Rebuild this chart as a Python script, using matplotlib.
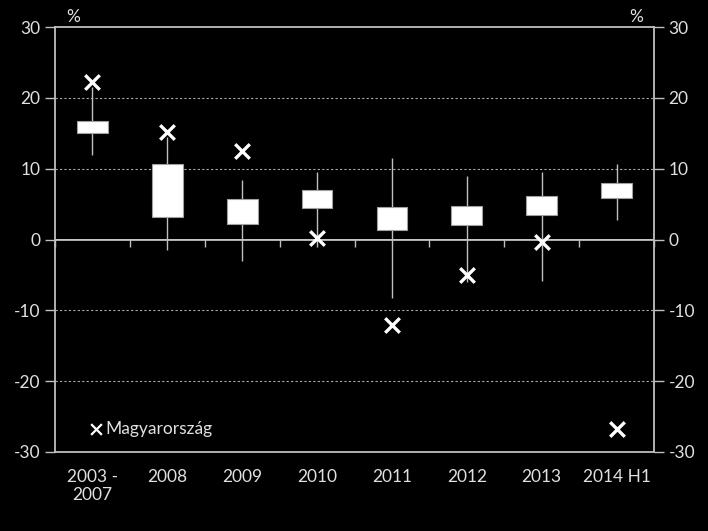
import numpy as np
import matplotlib as mpl
mpl.use('Agg')
import matplotlib.pyplot as plt

categories = ['2003 -\n2007', '2008', '2009', '2010', '2011', '2012', '2013', '2014 H1']
box_low   = [15.0, 3.2, 2.25, 4.45, 1.4, 2.0, 3.4, 5.9]
box_high  = [16.7, 10.7, 5.7, 6.95, 4.6, 4.75, 6.1, 8.0]
whisk_low = [11.9, -1.5, -3.0, -1.1, -8.2, -6.0, -5.8, 2.8]
whisk_high = [21.5, 14.5, 8.35, 9.5, 11.5, 9.0, 9.5, 10.6]
hungary   = [22.3, 15.2, 12.5, 0.2, -12.1, -5.0, -0.4, -26.8]

plt.rcParams['font.family'] = ['Lato', 'DejaVu Sans']
plt.rcParams['axes.unicode_minus'] = False
grey = '#bfbfbf'
txt = '#e0e0e0'

fig = plt.figure(figsize=(7.08, 5.31), dpi=100, facecolor='black')
ax = fig.add_axes([55/708, 1-452/531, 599/708, 425/531], facecolor='black')

x = np.arange(len(categories))
lo = np.array(box_low)
hi = np.array(box_high)

ax.vlines(x, whisk_low, whisk_high, color=grey, lw=1, zorder=2)
ax.bar(x, hi-lo, bottom=lo, width=0.41, color='white', edgecolor='#a0a0a0', lw=0.8, zorder=3)
ax.scatter(x, hungary, marker='x', s=110, color='white', linewidths=2.4, zorder=4)

ax.set_xlim(-0.5, len(categories)-0.5)
ax.set_ylim(-30, 30)
for yv in [-20, -10, 10, 20]:
    ax.axhline(yv, color='#aaaaaa', lw=0.8, ls=(0, (2, 2)), zorder=1)
ax.axhline(0, color=grey, lw=1.3, zorder=1)

ax.set_yticks(np.arange(-30, 31, 10))
ax.tick_params(axis='y', colors=grey, labelcolor=txt, labelsize=12.5, length=7, width=1, direction='out',
               right=True, labelright=True, left=True, labelleft=True)
ax.set_xticks(x)
ax.set_xticklabels(categories)
ax.tick_params(axis='x', length=0, labelsize=12.5, labelcolor=txt, pad=12)

for s in ax.spines.values():
    s.set_color(grey)
    s.set_linewidth(1.3)

# category boundary ticks hanging below the zero line
sec = ax.secondary_xaxis(0.5)
sec.set_xticks(np.arange(len(categories)+1)-0.5)
sec.xaxis.set_ticks_position('bottom')
sec.tick_params(axis='x', direction='out', length=5, width=1, colors=grey, labelbottom=False, labeltop=False)
for s in sec.spines.values():
    s.set_visible(False)

ax.text(0.03, 1.005, '%', transform=ax.transAxes, color=txt, fontsize=12.5, ha='center', va='bottom')
ax.text(0.97, 1.005, '%', transform=ax.transAxes, color=txt, fontsize=12.5, ha='center', va='bottom')

ax.scatter([0.05], [-26.8], marker='x', s=60, color='white', linewidths=1.6, zorder=4)
ax.text(0.17, -26.8, 'Magyarország', color=txt, fontsize=12.5, va='center', ha='left')

fig.savefig('out.png', dpi=100, facecolor='black')
